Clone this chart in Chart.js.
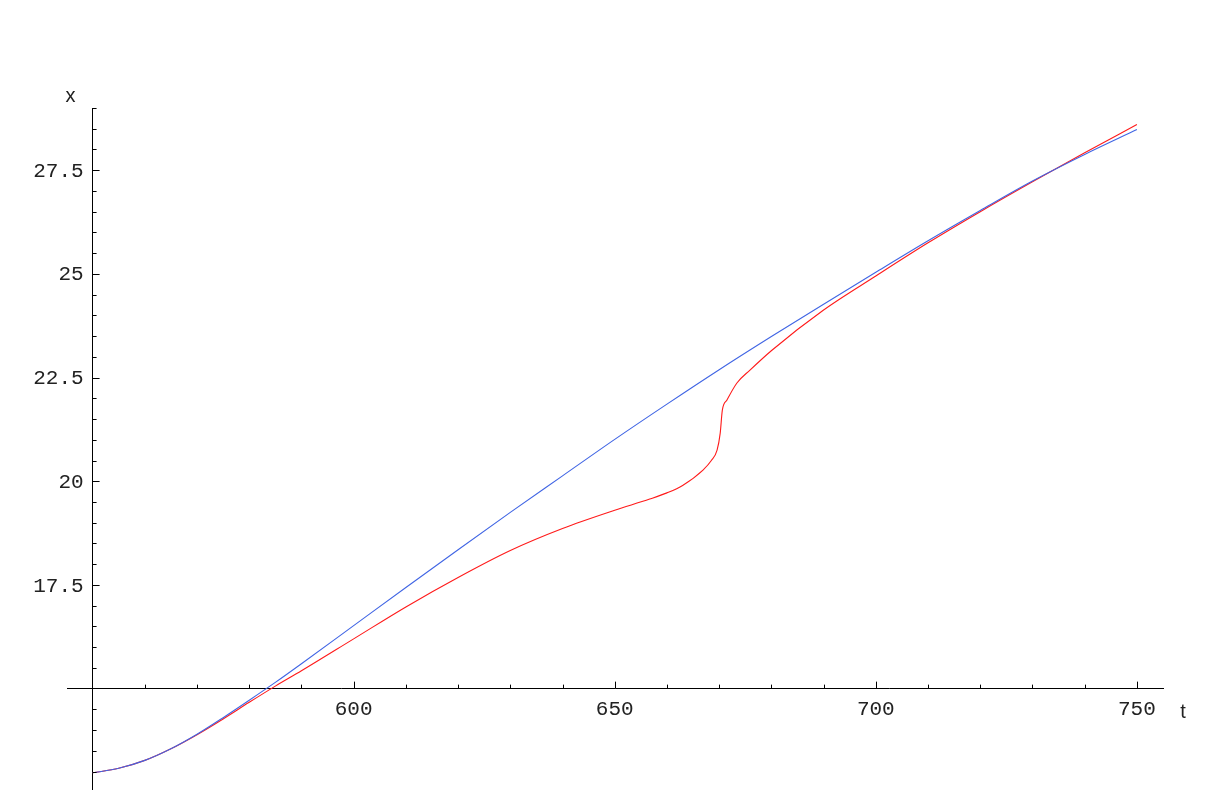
<!DOCTYPE html>
<html><head><meta charset="utf-8">
<script src="https://cdn.jsdelivr.net/npm/chart.js@4.4.0/dist/chart.umd.min.js"></script>
<style>html,body{margin:0;padding:0;background:#fff;}canvas{display:block;}</style>
</head><body>
<canvas id="c" width="1215" height="807"></canvas>
<script>
// Blue series (t, x)
const tBlue = [550,555,560,565,570,575,580,585,590,600,610,620,630,640,650,660,670,680,690,700,710,720,730,740,750];
const xBlue = [12.97,13.08,13.27,13.55,13.9,14.3,14.72,15.15,15.6,16.52,17.44,18.35,19.25,20.13,21.01,21.86,22.69,23.49,24.27,25.04,25.8,26.53,27.24,27.88,28.48];
// Red series (t, x)
const tRed = [550,555,560,565,570,575,580,585,590,600,610,620,630,640,650,656.7,660,663,666.9,668.5,669.6,670.2,670.6,671.5,673.4,675.9,680.1,690,700,710,720,730,740,750];
const xRed = [12.97,13.08,13.27,13.55,13.89,14.27,14.67,15.06,15.43,16.2,16.97,17.68,18.33,18.86,19.3,19.57,19.72,19.9,20.27,20.5,20.75,21.16,21.71,21.96,22.37,22.68,23.16,24.13,24.95,25.75,26.5,27.22,27.92,28.6];
// Tick labels
const tTickLabels = [600,650,700,750];
const xTickLabels = [17.5,20,22.5,25,27.5];
const tMinorStep = 10, tMajorStep = 50;
const xMinorStep = 0.5, xMajorStep = 2.5;

const monoFamily = '"Liberation Mono", "DejaVu Sans Mono", monospace';
const labelFont = {family:monoFamily, size:21};

const tickPlugin = {
  id:'ticksAndTitles',
  afterDraw(chart){
    const {ctx, scales:{x, y}} = chart;
    const axisY = y.getPixelForValue(15);
    const axisX = x.getPixelForValue(550);
    ctx.save();
    ctx.strokeStyle = '#000';
    ctx.lineWidth = 1;
    ctx.beginPath();
    for (let t = 560; t <= x.max; t += tMinorStep) {
      const px = Math.round(x.getPixelForValue(t)) + 0.5;
      const len = (t % tMajorStep === 0) ? 7 : 4;
      ctx.moveTo(px, axisY); ctx.lineTo(px, axisY - len);
    }
    for (let v = 13; v <= y.max; v += xMinorStep) {
      if (Math.abs(v - 15) < 1e-6) continue;
      const py = Math.round(y.getPixelForValue(v)) + 0.5;
      const len = (Math.abs(v / xMajorStep - Math.round(v / xMajorStep)) < 1e-6) ? 7 : 4;
      ctx.moveTo(axisX, py); ctx.lineTo(axisX + len, py);
    }
    ctx.stroke();
    // y tick labels
    ctx.fillStyle = '#222';
    ctx.font = '21px ' + monoFamily;
    ctx.textAlign = 'right';
    ctx.textBaseline = 'middle';
    xTickLabels.forEach(v => {
      ctx.fillText(String(v), axisX - 9, y.getPixelForValue(v) + 1);
    });
    // axis titles
    ctx.font = '20px "Liberation Sans", Arial, sans-serif';
    ctx.textAlign = 'center';
    ctx.textBaseline = 'alphabetic';
    ctx.fillText('x', axisX - 22, chart.chartArea.top - 6);
    ctx.fillText('t', chart.chartArea.right + 20, axisY + 29);
    ctx.restore();
  }
};

new Chart(document.getElementById('c'), {
  type:'scatter',
  data:{datasets:[
    {label:'blue', data:tBlue.map((t,i)=>({x:t,y:xBlue[i]})), showLine:true, borderColor:'#4065e4', borderWidth:1.1, pointRadius:0, cubicInterpolationMode:'monotone', fill:false, order:0},
    {label:'red', data:tRed.map((t,i)=>({x:t,y:xRed[i]})), showLine:true, borderColor:'#ff1a1a', borderWidth:1.1, pointRadius:0, cubicInterpolationMode:'monotone', fill:false, order:1}
  ]},
  options:{
    responsive:false, animation:false, devicePixelRatio:1,
    layout:{padding:{left:67,right:52,top:108,bottom:18}},
    plugins:{legend:{display:false}, tooltip:{enabled:false}},
    scales:{
      x:{type:'linear', min:545.1, max:755, position:{y:15},
        afterBuildTicks(s){ s.ticks = tTickLabels.map(v=>({value:v})); },
        ticks:{font:labelFont, color:'#222', padding:8, maxRotation:0, autoSkip:false},
        grid:{drawOnChartArea:false, drawTicks:false, color:'rgba(0,0,0,0)'},
        border:{color:'#000', width:1}},
      y:{type:'linear', min:12.58, max:29.0, position:{x:550},
        afterBuildTicks(s){ s.ticks = xTickLabels.map(v=>({value:v})); },
        ticks:{display:false},
        grid:{drawOnChartArea:false, drawTicks:false, color:'rgba(0,0,0,0)'},
        border:{color:'#000', width:1}}
    }
  },
  plugins:[tickPlugin]
});
</script>
</body></html>
